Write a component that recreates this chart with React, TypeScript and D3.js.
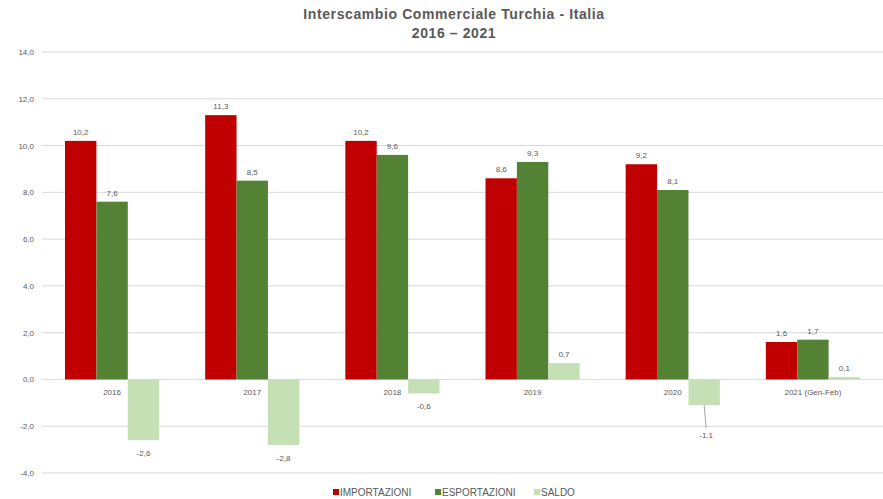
import React from "react";
import * as d3 from "d3";

const categories = ["2016", "2017", "2018", "2019", "2020", "2021 (Gen-Feb)"];
const importazioni = [10.2, 11.3, 10.2, 8.6, 9.2, 1.6];
const esportazioni = [7.6, 8.5, 9.6, 9.3, 8.1, 1.7];
const saldo = [-2.6, -2.8, -0.6, 0.7, -1.1, 0.1];
const seriesNames = ["IMPORTAZIONI", "ESPORTAZIONI", "SALDO"];
const seriesColors = ["#C00000", "#548235", "#C5E0B4"];
const yTicks = [-4, -2, 0, 2, 4, 6, 8, 10, 12, 14];

const W = 883;
const H = 499;
const margin = { left: 42, right: 0, top: 52, bottom: 26 };

export default function App() {
  const x = d3.scaleBand<string>().domain(categories).range([margin.left, W]).paddingInner(0).paddingOuter(0);
  const y = d3.scaleLinear().domain([-4, 14]).range([473, 52]);
  const sub = d3.scaleBand<string>().domain(seriesNames).range([23, x.bandwidth() - 23]).padding(0);
  const fmt = (v: number) => v.toFixed(1).replace(".", ",");
  const data = [importazioni, esportazioni, saldo];
  const font = "'Liberation Sans', Arial, sans-serif";
  const textColor = "#595959";

  return (
    <svg width={W} height={H} style={{ position: "absolute", left: 0, top: 0, background: "#fff" }} fontFamily={font}>
      <text x={454} y={19} textAnchor="middle" fontSize={14} letterSpacing={0.6} fontWeight="bold" fill="#595959">
        Interscambio Commerciale Turchia - Italia
      </text>
      <text x={454} y={38} textAnchor="middle" fontSize={14} letterSpacing={0.6} fontWeight="bold" fill="#595959">
        2016 – 2021
      </text>
      {yTicks.map((t) => (
        <g key={t}>
          <line x1={margin.left} x2={W} y1={y(t)} y2={y(t)} stroke="#D9D9D9" strokeWidth={1} />
          <text x={34} y={y(t) + 3} textAnchor="end" fontSize={8} fill={textColor}>
            {fmt(t)}
          </text>
        </g>
      ))}
      {categories.map((c, i) => (
        <g key={c}>
          {data.map((arr, s) => {
            const v = arr[i];
            const bx = (x(c) as number) + (sub(seriesNames[s]) as number);
            const bw = sub.bandwidth();
            const y0 = y(0);
            const yv = y(v);
            const top = Math.min(y0, yv);
            const h = Math.abs(yv - y0);
            const isLeader = s === 2 && c === "2020";
            const ly = v >= 0 ? yv - 6 : isLeader ? yv + 33 : yv + 16;
            return (
              <g key={s}>
                <rect x={bx} y={top} width={bw} height={Math.max(h, 0.5)} fill={seriesColors[s]} />
                {isLeader && (
                  <line x1={bx + bw / 2} x2={bx + bw / 2 + 2} y1={yv} y2={ly - 10} stroke="#A6A6A6" strokeWidth={1} />
                )}
                <text x={bx + bw / 2 + (isLeader ? 2 : 0)} y={ly} textAnchor="middle" fontSize={8} fill={textColor}>
                  {fmt(v)}
                </text>
              </g>
            );
          })}
          <text x={(x(c) as number) + x.bandwidth() / 2} y={y(0) + 16} textAnchor="middle" fontSize={8} fill={textColor}>
            {c}
          </text>
        </g>
      ))}
      {(() => {
        const items = [
          { x: 336, name: seriesNames[0], c: seriesColors[0] },
          { x: 438, name: seriesNames[1], c: seriesColors[1] },
          { x: 537, name: seriesNames[2], c: seriesColors[2] },
        ];
        return items.map((it) => (
          <g key={it.name}>
            <rect x={it.x - 3} y={489} width={6} height={6} fill={it.c} />
            <text x={it.x + 4} y={496} fontSize={10} fill={textColor}>
              {it.name}
            </text>
          </g>
        ));
      })()}
    </svg>
  );
}
